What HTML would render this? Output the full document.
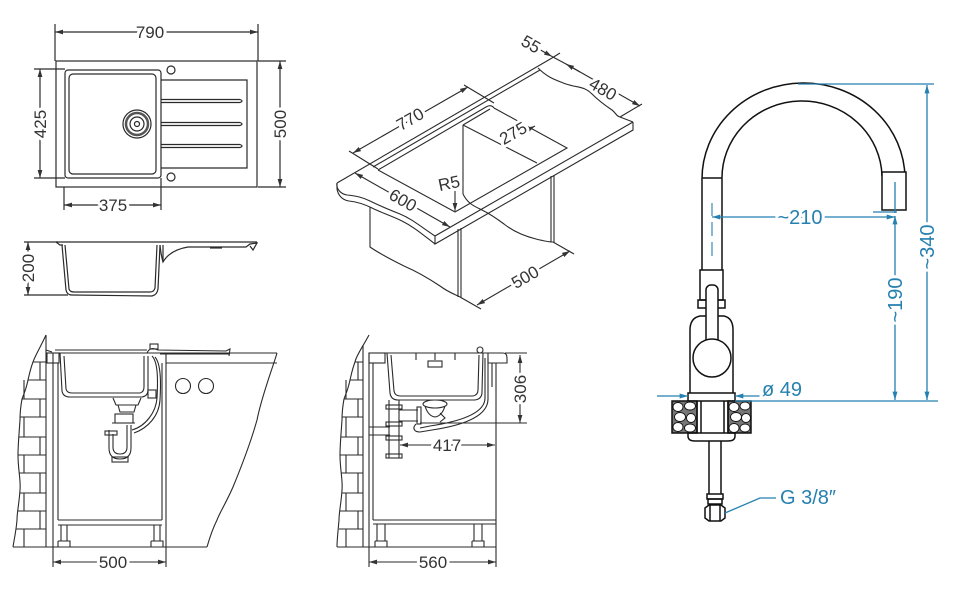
<!DOCTYPE html>
<html><head><meta charset="utf-8"><style>
html,body{margin:0;padding:0;background:#fff;}
svg{display:block;}
text{font-family:"Liberation Sans",sans-serif;}
.t{fill:#333;font-size:17px;text-anchor:middle;paint-order:stroke;stroke:#fff;stroke-width:6px;stroke-linejoin:round;}
.tb{fill:#2680b0;font-size:20px;paint-order:stroke;stroke:#fff;stroke-width:6px;stroke-linejoin:round;}
</style></head><body>
<svg width="960" height="592" viewBox="0 0 960 592" xmlns="http://www.w3.org/2000/svg">
<defs>
<marker id="a" viewBox="0 0 10 6" refX="10" refY="3" markerWidth="8" markerHeight="5" markerUnits="userSpaceOnUse" orient="auto-start-reverse"><path d="M0,0 L10,3 L0,6 z" fill="#333"/></marker>
<marker id="b" viewBox="0 0 10 6" refX="10" refY="3" markerWidth="9" markerHeight="5" markerUnits="userSpaceOnUse" orient="auto-start-reverse"><path d="M0,0 L10,3 L0,6 z" fill="#2680b0"/></marker>
</defs>

<!-- ============ TOP VIEW ============ -->
<g stroke="#2a2a2a" stroke-width="1.2" fill="none">
  <line x1="55" y1="24" x2="55" y2="61"/>
  <line x1="258" y1="24" x2="258" y2="61"/>
  <line x1="55" y1="32" x2="258" y2="32" marker-start="url(#a)" marker-end="url(#a)"/>
  <rect x="56" y="61" width="201" height="126"/>
  <rect x="65" y="70" width="96" height="108" rx="3"/>
  <rect x="69" y="74" width="87" height="100" rx="4"/>
  <path d="M161,80 H247 V168 H161"/>
  <path d="M161,99.5 H240 Q244,101 240,102.5 H161"/>
  <path d="M161,122.5 H240 Q244,124 240,125.5 H161"/>
  <path d="M161,144.5 H240 Q244,146 240,147.5 H161"/>
  <circle cx="171" cy="70" r="4"/>
  <circle cx="171" cy="177" r="4"/>
  <circle cx="137" cy="124" r="14"/>
  <circle cx="137" cy="124" r="11" stroke-width="2.5" stroke="#555"/>
  <circle cx="137" cy="124" r="7"/>
  <circle cx="137" cy="124" r="2.5"/>
  <!-- 425 -->
  <line x1="34" y1="69" x2="65" y2="69"/>
  <line x1="34" y1="178" x2="65" y2="178"/>
  <line x1="40" y1="69" x2="40" y2="178" marker-start="url(#a)" marker-end="url(#a)"/>
  <!-- 500 -->
  <line x1="258" y1="61" x2="286" y2="61"/>
  <line x1="258" y1="187" x2="286" y2="187"/>
  <line x1="280" y1="61" x2="280" y2="187" marker-start="url(#a)" marker-end="url(#a)"/>
  <!-- 375 -->
  <line x1="64" y1="187" x2="64" y2="210"/>
  <line x1="161" y1="178" x2="161" y2="210"/>
  <line x1="64" y1="205" x2="161" y2="205" marker-start="url(#a)" marker-end="url(#a)"/>
</g>
<text class="t" x="150" y="38">790</text>
<text class="t" x="113" y="211">375</text>
<text class="t" transform="translate(40,124) rotate(-90)" y="6">425</text>
<text class="t" transform="translate(280,124) rotate(-90)" y="6">500</text>

<!-- ============ SIDE VIEW ============ -->
<g stroke="#2a2a2a" stroke-width="1.2" fill="none">
  <line x1="24" y1="242" x2="58" y2="242"/>
  <line x1="24" y1="295" x2="68" y2="295"/>
  <line x1="28" y1="242" x2="28" y2="295" marker-start="url(#a)" marker-end="url(#a)"/>
  <path d="M56,242 H257"/>
  <path d="M56,242 L60,245 H63"/>
  <path d="M62,245 L66,290 Q67,295 72,295 L152,296 Q157,295 158,289 L160,245"/>
  <path d="M65,245 L69,289 Q70,292 74,292 L150,292 Q154,292 155,288 L157,245"/>
  <path d="M160,245 Q161,255 163,262 Q170,250 188,247 H246 L250,244 L257,243 L253,250 L250,246"/>
  <path d="M163,262 L163,245"/>
  <path d="M210,248 H222"/>
</g>
<text class="t" transform="translate(28,268) rotate(-90)" y="6">200</text>

<!-- ============ ISOMETRIC ============ -->
<g stroke="#2a2a2a" stroke-width="1.1" fill="none">
  <path d="M337,183 L552,58"/>
  <path d="M373,167 L540,70"/>
  <path d="M378,170 L486,107 Q491,104 494,108"/>
  <path d="M538,68 C548,78 556,80 566,84 C578,88 584,86 592,94 C600,102 606,106 612,110 C616,113 616,116 620,117 L633,122"/>
  <path d="M633,122 V130 L435,244 V236 L633,122"/>
  <path d="M337,183 C336,188 340,194 347,195 C356,196 362,197 370,201 C380,206 390,210 400,214 C412,219 420,226 435,236"/>
  <path d="M337,183 V189 C338,195 342,200 349,201 C358,202 364,204 372,208 C382,213 392,216 402,221 C414,227 422,234 435,244"/>
  <path d="M378,170 L455,212 L567,148 L494,108"/>
  <path d="M463,125 L490,109"/>
  <path d="M463,125 L537,163"/>
  <path d="M463,125 V194"/>
  <path d="M370,207 V247 C380,254 392,260 404,266 C418,272 428,278 440,286 C448,292 454,294 460,297"/>
  <path d="M458,229 V297 M461,228 V298"/>
  <path d="M551,176 V242 M554,175 V243"/>
  <path d="M463,194 C468,204 474,206 482,210 C490,214 496,218 504,224 C514,232 524,236 536,239 C544,241 548,242 553,242"/>
  <path d="M349,151 L378,169"/>
  <path d="M464,85 L494,103"/>
  <path d="M353,153 L468,87" marker-start="url(#a)" marker-end="url(#a)"/>
  <path d="M355,173 L450,227" marker-start="url(#a)" marker-end="url(#a)"/>
  <path d="M437,185 L452,190 L455,190 V211" marker-end="url(#a)"/>
  <path d="M503,143 L535,126" marker-start="url(#a)" marker-end="url(#a)"/>
  <path d="M552,58 L560,53"/>
  <path d="M620,117 L642,104"/>
  <path d="M537,48 L552,56.5" marker-end="url(#a)"/>
  <path d="M566,64 L640,106" marker-end="url(#a)"/>
  <path d="M580,72 L566,64" marker-end="url(#a)"/>
  <path d="M552,56.5 L566,64"/>
  <path d="M460,297 L481,309"/>
  <path d="M553,242 L574,254"/>
  <path d="M477,305 L570,251" marker-start="url(#a)" marker-end="url(#a)"/>
</g>
<text class="t" transform="translate(410,119) rotate(-30)" y="6">770</text>
<text class="t" transform="translate(403,200) rotate(30)" y="6">600</text>
<text class="t" transform="translate(449,183) rotate(-12)" y="6">R5</text>
<text class="t" transform="translate(513,133) rotate(-30)" y="6">275</text>
<text class="t" transform="translate(531,44) rotate(30)" y="6">55</text>
<text class="t" transform="translate(603,89) rotate(30)" y="6">480</text>
<text class="t" transform="translate(525,277) rotate(-30)" y="6">500</text>

<!-- ============ LOWER LEFT ============ -->
<g stroke="#2a2a2a" stroke-width="1.1" fill="none">
  <path d="M46,335 C40,348 35,356 33,362 C30,370 29,376 28,380 C26,390 23,396 22,399 C20,410 20,415 20,420 C19,435 18,445 18,455 C18,470 21,480 20,490 C19,505 17,512 17,520 C16,532 14,540 13,547"/>
  <path d="M46,335 V547 M53,353 V547 M58,363 V520"/>
  <path d="M33,362 H46 M28,380 H46 M22,399 H46 M20,417 H46 M19,437 H46 M18,455 H46 M19,473 H46 M20,493 H46 M18,511 H46 M16,529 H46"/>
  <path d="M40,362 V380 M24,380 V399 M40,399 V417 M24,417 V437 M40,437 V455 M24,455 V473 M40,473 V493 M24,493 V511 M40,511 V529 M24,529 V547"/>
  <path d="M13,547 H207"/>
  <path d="M46,353 H277 M166,363 H277"/>
  <path d="M166,353 V547 M162,363 V520"/>
  <path d="M277,353 C272,370 262,395 257,420 C250,445 240,470 233,487 C226,503 220,512 217,520 C212,530 209,540 207,547"/>
  <path d="M58,520 H162 M58,525 H162"/>
  <path d="M61,525 V541 M67,525 V541 M58,541 H70 V547 M58,541 V547"/>
  <path d="M154,525 V541 M160,525 V541 M151,541 H163 V547 M151,541 V547"/>
  <circle cx="183" cy="386" r="7.5"/>
  <circle cx="206" cy="386" r="7.5"/>
  <path d="M46,350 L52,352 M55,350 H147"/>
  <rect x="47" y="353" width="12" height="10"/>
  <path d="M60,353 L62,391 Q63,397 70,397 L142,397 Q148,396 148,390 L148,356"/>
  <path d="M64,356 L66,389 Q67,393 72,393 L140,393 Q144,392 144,387 L144,356"/>
  <path d="M147,353 Q150,346 158,350 L226,351 L230,349 L229,356"/>
  <path d="M160,354 H230"/>
  <rect x="150" y="344" width="8" height="5"/>
  <path d="M113,398 L116,405 L138,405 L141,398"/>
  <path d="M118,405 L120,412 H134 L136,405"/>
  <rect x="115" y="414" width="18" height="9"/>
  <path d="M112,423 H135"/>
  <path d="M109,430 V448 Q109,459 120,459 Q131,459 131,448 V425 M113,434 V447 Q113,454 120,454 Q127,454 127,447 V425"/>
  <rect x="105" y="431" width="12" height="4"/>
  <rect x="112" y="457" width="16" height="5"/>
  <path d="M152,356 C158,362 158,380 157,398 C156,412 146,426 132,430"/>
  <path d="M155,357 C161,364 161,382 160,400 C159,416 148,428 134,433"/>
  <rect x="148" y="390" width="8" height="8"/>
  <path d="M53,547 V567 M166,547 V567"/>
  <path d="M53,562 H166" marker-start="url(#a)" marker-end="url(#a)"/>
</g>
<text class="t" x="113" y="568">500</text>

<!-- ============ LOWER MIDDLE ============ -->
<g stroke="#2a2a2a" stroke-width="1.1" fill="none">
  <path d="M369,335 C362,348 356,356 355,362 C352,370 351,376 350,380 C348,390 345,396 344,399 C342,410 342,415 342,420 C341,435 340,445 340,455 C340,470 343,480 342,490 C341,505 339,512 339,520 C338,532 337,540 337,547"/>
  <path d="M363,345 V547 M369,353 V547 M373,363 V520"/>
  <path d="M355,362 H363 M350,380 H363 M344,399 H363 M342,417 H363 M341,437 H363 M340,455 H363 M341,473 H363 M342,493 H363 M340,511 H363 M339,529 H363"/>
  <path d="M358,362 V380 M346,380 V399 M358,399 V417 M346,417 V437 M358,437 V455 M346,455 V473 M358,473 V493 M346,493 V511 M358,511 V529 M346,529 V547"/>
  <path d="M337,547 H496"/>
  <path d="M496,363 V547"/>
  <path d="M373,520 H496 M373,524 H496"/>
  <path d="M377,524 V541 M385,524 V541 M375,541 H387 V547 M375,541 V547"/>
  <path d="M474,524 V541 M482,524 V541 M472,541 H484 V547 M472,541 V547"/>
  <rect x="369" y="353" width="16" height="10"/>
  <path d="M380,353 H488"/>
  <path d="M488,353 H503 Q507,353 507,358 V363 H488 Z"/>
  <path d="M492,363 V387"/>
  <path d="M387,353 L390,393 Q391,400 398,400 L475,400 Q482,399 482,392 L483,353"/>
  <path d="M391,355 L394,391 Q395,396 400,396 L473,396 Q478,395 478,390 L479,355"/>
  <path d="M416,353 V360 M435,353 V360 M455,353 V360"/>
  <rect x="428" y="361" width="14" height="6"/>
  <circle cx="480" cy="350" r="3"/>
  <ellipse cx="435" cy="404" rx="12" ry="4"/>
  <path d="M425,406 Q428,416 435,417 Q442,416 445,406"/>
  <path d="M440,413 L445,418 L440,422"/>
  <path d="M485,358 V398 C485,410 470,420 430,426 L420,428"/>
  <path d="M488,358 V399 C488,413 472,424 432,430 L420,432"/>
  <path d="M416,424 C412,428 414,432 420,432"/>
  <path d="M389,400 V458 M399,400 V458"/>
  <rect x="386" y="405" width="16" height="4"/>
  <rect x="386" y="422" width="16" height="4"/>
  <rect x="386" y="436" width="16" height="4"/>
  <rect x="386" y="454" width="16" height="4"/>
  <path d="M399,410 H418 M399,421 H418"/>
  <rect x="417" y="407" width="4" height="17"/>
  <path d="M369,427 H390 M369,435 H390"/>
  <path d="M505,353 H527 M420,423 H527"/>
  <path d="M520,355 V423" marker-start="url(#a)" marker-end="url(#a)"/>
  <path d="M400,445 H495" marker-start="url(#a)" marker-end="url(#a)"/>
  <path d="M369,547 V567 M496,547 V567"/>
  <path d="M369,562 H496" marker-start="url(#a)" marker-end="url(#a)"/>
</g>
<text class="t" transform="translate(520,389) rotate(-90)" y="6">306</text>
<text class="t" x="447" y="451">417</text>
<text class="t" x="433" y="568">560</text>

<!-- ============ FAUCET ============ -->
<g stroke="#111" stroke-width="1.5" fill="none">
  <path d="M702,270 V180 A101.5,96 0 0 1 905,178"/>
  <path d="M722,270 V180 A80,77 0 0 1 882,176"/>
  <path d="M702,178 H722"/>
  <rect x="882" y="172" width="24" height="38" fill="#fff"/>
  <rect x="700" y="270" width="23" height="30"/>
  <path d="M698,300 H725 V308 H698 Z"/>
  <path d="M690,394 V330 Q690,318 700,316 H724 Q733,318 733,330 V394"/>
  <rect x="706" y="285" width="12" height="68" rx="5" fill="#fff"/>
  <circle cx="712" cy="358" r="19" fill="#fff"/>
  <rect x="688" y="393" width="47" height="8" fill="#fff"/>
  <rect x="672" y="401" width="25" height="32" fill="#777"/>
  <rect x="728" y="401" width="23" height="32" fill="#777"/>
  <path d="M697,401 V433 M701,401 V433 M724,401 V433 M728,401 V433"/>
  <path d="M688,433 H735 V436 Q735,441 728,441 H695 Q688,441 688,436 Z"/>
  <path d="M709,441 V494 M721,441 V494"/>
  <rect x="707" y="494" width="16" height="5"/>
  <rect x="708" y="499" width="14" height="5"/>
  <path d="M705,508 L709,505 H721 L725,508 V518 L721,521 H709 L705,518 Z"/>
  <path d="M710,505 V521 M720,505 V521"/>
</g>
<g fill="#fff" stroke="#111" stroke-width="0.9">
  <ellipse cx="678" cy="407" rx="5" ry="4.5"/>
  <ellipse cx="690" cy="406" rx="5.5" ry="4"/>
  <ellipse cx="680" cy="417" rx="5.5" ry="4.5"/>
  <ellipse cx="691" cy="418" rx="4.5" ry="4.5"/>
  <ellipse cx="678" cy="427" rx="5" ry="4.5"/>
  <ellipse cx="690" cy="428" rx="5.5" ry="4"/>
  <ellipse cx="734" cy="407" rx="5" ry="4.5"/>
  <ellipse cx="745" cy="406" rx="5" ry="4"/>
  <ellipse cx="736" cy="417" rx="5.5" ry="4.5"/>
  <ellipse cx="746" cy="418" rx="4.5" ry="4.5"/>
  <ellipse cx="734" cy="428" rx="5" ry="4.5"/>
  <ellipse cx="745" cy="428" rx="5" ry="4"/>
</g>
<g stroke="#2680b0" stroke-width="1.3" fill="none">
  <path d="M712,203 V216 M712,222 V236 M712,242 V256" stroke-width="1.1"/>
  <path d="M712,217 H895" marker-start="url(#b)" marker-end="url(#b)"/>
  <path d="M873,212 H897"/>
  <path d="M895,182 V213"/>
  <path d="M895,216 V400" marker-start="url(#b)" marker-end="url(#b)"/>
  <path d="M798,84 H934"/>
  <path d="M927,85 V400" marker-start="url(#b)" marker-end="url(#b)"/>
  <path d="M735,401 H938"/>
  <path d="M657,396 H688" marker-end="url(#b)"/>
  <path d="M762,396 H735" marker-end="url(#b)"/>
  <path d="M725,513 L760,498 H776"/>
</g>
<text class="tb" x="800" y="224" text-anchor="middle">~210</text>
<text class="tb" transform="translate(895,300) rotate(-90)" y="7" text-anchor="middle">~190</text>
<text class="tb" transform="translate(927,247) rotate(-90)" y="7" text-anchor="middle">~340</text>
<text class="tb" x="762" y="396" stroke-width="0">ø 49</text>
<text class="tb" x="780" y="504" stroke-width="0">G 3/8″</text>
</svg>
</body></html>
